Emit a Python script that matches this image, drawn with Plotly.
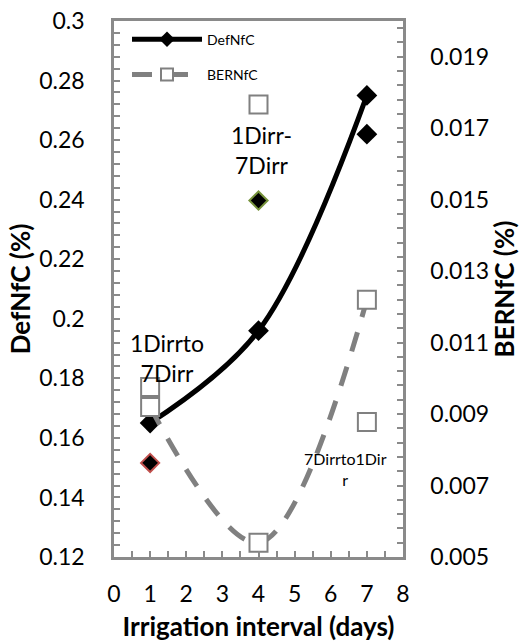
import plotly.graph_objects as go

# Irrigation interval (days)
interval = [1, 4, 7]

# DefNfC (%) – fitted series and additional observations
def_main = [0.165, 0.196, 0.275]
def_extra = [0.1516, 0.2397, 0.262]
def_extra_x = [1, 4, 7]
def_extra_outline = ["#C0504D", "#77933C", "#000000"]
def_extra_outline_w = [2, 2, 0]
def_extra_size = [14, 14, 16]

# BERNfC (%) – fitted series and additional observations
bern_main = [0.0092, 0.0054, 0.0122]
bern_extra = [0.00976, 0.01766, 0.00878]
bern_extra_x = [1, 4, 7]

# Axis ticks
x_ticks = [0, 1, 2, 3, 4, 5, 6, 7, 8]
y_ticks = [0.12, 0.14, 0.16, 0.18, 0.2, 0.22, 0.24, 0.26, 0.28, 0.3]
y_ticktext = ["0.12", "0.14", "0.16", "0.18", "0.2", "0.22", "0.24", "0.26", "0.28", "0.3"]
y2_ticks = [0.005, 0.007, 0.009, 0.011, 0.013, 0.015, 0.017, 0.019]
y2_ticktext = ["0.005", "0.007", "0.009", "0.011", "0.013", "0.015", "0.017", "0.019"]

# Text labels placed on the chart (x, y on DefNfC axis)
labels = [
    ("1Dirrto<br>7Dirr", 1.47, 0.1867, 23),
    ("1Dirr-<br>7Dirr", 4.07, 0.2568, 23),
    ("7Dirrto1Dir<br>r", 6.42, 0.1494, 16),
]

AX = "#8a8a8a"
GREY = "#808080"
FONT = "Lato"

fig = go.Figure()

fig.add_trace(go.Scatter(
    x=interval, y=def_main, name="DefNfC", mode="lines+markers",
    line=dict(color="black", width=5, shape="spline", smoothing=1),
    marker=dict(symbol="diamond", size=16, color="black", opacity=1),
    legendgroup="a",
))
fig.add_trace(go.Scatter(
    x=def_extra_x, y=def_extra, mode="markers", showlegend=False,
    marker=dict(symbol="diamond", size=def_extra_size, color="black", opacity=1,
                line=dict(color=def_extra_outline, width=def_extra_outline_w)),
))
fig.add_trace(go.Scatter(
    x=interval, y=bern_main, name="BERNfC", mode="lines+markers", yaxis="y2",
    line=dict(color=GREY, width=5, dash="20px,16px", shape="spline", smoothing=1),
    marker=dict(symbol="square", size=18, color="white", opacity=1,
                line=dict(color=GREY, width=2)),
    legendgroup="b",
))
fig.add_trace(go.Scatter(
    x=bern_extra_x, y=bern_extra, mode="markers", yaxis="y2", showlegend=False,
    marker=dict(symbol="square", size=18, color="white", opacity=1,
                line=dict(color=GREY, width=2)),
))

for text, lx, ly, fs in labels:
    fig.add_annotation(x=lx, y=ly, xref="x", yref="y", text=text, showarrow=False,
                       font=dict(family=FONT, size=fs, color="black"),
                       xanchor="center", yanchor="middle")

tick_font = dict(family=FONT, size=23, color="black")
title_font = dict(family=FONT, size=26, color="black", weight=700)

fig.update_layout(
    width=520, height=644,
    margin=dict(l=114, r=117, t=21, b=87),
    paper_bgcolor="white", plot_bgcolor="white",
    font=dict(family=FONT, color="black"),
    showlegend=True,
    legend=dict(x=0.045, y=0.995, xanchor="left", yanchor="top",
                bgcolor="rgba(0,0,0,0)", font=dict(family=FONT, size=14, color="black"),
                itemwidth=70, tracegroupgap=14, itemsizing="constant"),
    xaxis=dict(
        range=[0, 8], tickmode="array", tickvals=x_ticks, ticks="inside",
        ticklen=6, tickwidth=2, tickcolor=AX, automargin=False,
        minor=dict(dtick=0.5, tick0=0, ticks="inside", ticklen=6, tickwidth=2, tickcolor=AX),
        showline=True, linecolor=AX, linewidth=2.5, mirror=True,
        showgrid=False, zeroline=False, tickfont=tick_font, ticklabelstandoff=15,
        title=dict(text="Irrigation interval (days)", font=title_font, standoff=12),
    ),
    yaxis=dict(
        range=[0.12, 0.3], tickmode="array", tickvals=y_ticks, ticktext=y_ticktext,
        ticks="inside", ticklen=6, tickwidth=2, tickcolor=AX, automargin=False,
        minor=dict(tickmode="linear", tick0=0.12, dtick=0.004, ticks="inside",
                   ticklen=6, tickwidth=2, tickcolor=AX),
        showline=True, linecolor=AX, linewidth=2.5,
        showgrid=False, zeroline=False, tickfont=tick_font, ticklabelstandoff=22,
        title=dict(text="DefNfC (%)", font=title_font, standoff=2),
    ),
    yaxis2=dict(
        overlaying="y", side="right",
        range=[0.005, 0.020], tickmode="array", tickvals=y2_ticks, ticktext=y2_ticktext,
        ticks="inside", ticklen=6, tickwidth=2, tickcolor=AX, automargin=False,
        minor=dict(tickmode="linear", tick0=0.005, dtick=0.0004, ticks="inside",
                   ticklen=6, tickwidth=2, tickcolor=AX),
        showline=True, linecolor=AX, linewidth=2.5,
        showgrid=False, zeroline=False, tickfont=tick_font, ticklabelstandoff=20,
        title=dict(text="BERNfC (%)", font=title_font, standoff=18),
    ),
)

fig.write_html("out.html")
